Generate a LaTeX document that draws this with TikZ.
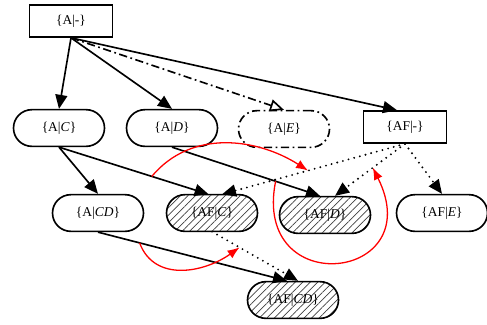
\documentclass[tikz,border=0pt]{standalone}
\usepackage{fontspec}
\setmainfont{Liberation Serif}
\usetikzlibrary{arrows.meta, patterns.meta}
\tikzset{state/.style={draw, line width=1.4pt, rounded corners=5.5mm, minimum width=27.3mm, minimum height=11mm, inner sep=1pt, font=\fontsize{11.5}{13}\selectfont}}
\tikzset{cond/.style={draw, line width=1.4pt, minimum width=25mm, minimum height=9.6mm, inner sep=1pt, font=\fontsize{11.5}{13}\selectfont}}
\tikzset{hatched/.style={pattern={Lines[angle=45, distance=4.5pt, line width=0.6pt]}, pattern color=black!75}}
\tikzset{dashdot/.style={dash pattern=on 7pt off 3pt on 1.5pt off 3pt}}
\tikzset{edge/.style={line width=1.4pt, -{Triangle[length=4.2mm, width=3.6mm]}}}
\tikzset{dotedge/.style={edge, line width=1.8pt, line cap=round, dash pattern=on 0pt off 5pt}}
\tikzset{swap/.style={red, line width=1.1pt, -{Latex[length=3.6mm, width=2.8mm]}}}

\begin{document}
\begin{tikzpicture}[x=0.3mm, y=-0.3mm]
\useasboundingbox (0,0) rectangle (487,324);

% conditions
\node[cond] (aa)  at (71,21)   {\{A|-\}};
\node[cond] (afn) at (405,127) {\{AF|-\}};

% first level
\node[state] (ac) at (59,128)  {\{A|\textit{C}\}};
\node[state] (ad) at (172,128) {\{A|\textit{D}\}};
\node[state, dashdot] (ae) at (284,129) {\{A|\textit{E}\}};

% second level
\node[state] (acd) at (98,213) {\{A|\textit{CD}\}};
\node[state, hatched] (afc) at (212,213) {\{AF|\textit{C}\}};
\node[state, hatched] (afd) at (325,215) {\{AF|\textit{D}\}};
\node[state] (afe) at (442,213) {\{AF|\textit{E}\}};
\node[state, hatched] (afcd) at (293,300) {\{AF|\textit{CD}\}};

\draw[edge] (aa.south) -- (ac.north);
\draw[edge] (aa.south) -- (ad.north);
\draw[edge, dashdot, -{Triangle[open, length=4.2mm, width=3.6mm]}] (aa.south) -- (ae.north);
\draw[edge] (aa.south) -- ([xshift=-2.4mm]afn.north);

\draw[edge] (ac.south) -- (acd.north);
\draw[edge] (ac.south) -- ([xshift=-1mm]afc.north) coordinate[pos=0.62] (r1a);
\draw[edge] (ad.south) -- ([xshift=-1.5mm]afd.north) coordinate[pos=0.7] (r2a);
\draw[dotedge] (afn.south) -- ([xshift=3mm]afc.north) coordinate[pos=0.53] (r1b);
\draw[dotedge] (afn.south) -- ([xshift=3mm]afd.north) coordinate[pos=0.46] (r2b);
\draw[dotedge] (afn.south) -- (afe.north);
\draw[edge] (acd.south) -- ([xshift=-1.8mm]afcd.north) coordinate[pos=0.22] (r3a);
\draw[dotedge] (afc.south) -- ([xshift=1.5mm]afcd.north) coordinate[pos=0.32] (r3b);

% swaps
\draw[swap] (r1a) .. controls +(40,-48) and +(-50,-32) .. (r1b);
\draw[swap] (r2a) .. controls +(-24,120) and +(57,114) .. (r2b);
\draw[swap] (r3a) .. controls +(15,40) and +(-35,25) .. (r3b);
\end{tikzpicture}
\end{document}
